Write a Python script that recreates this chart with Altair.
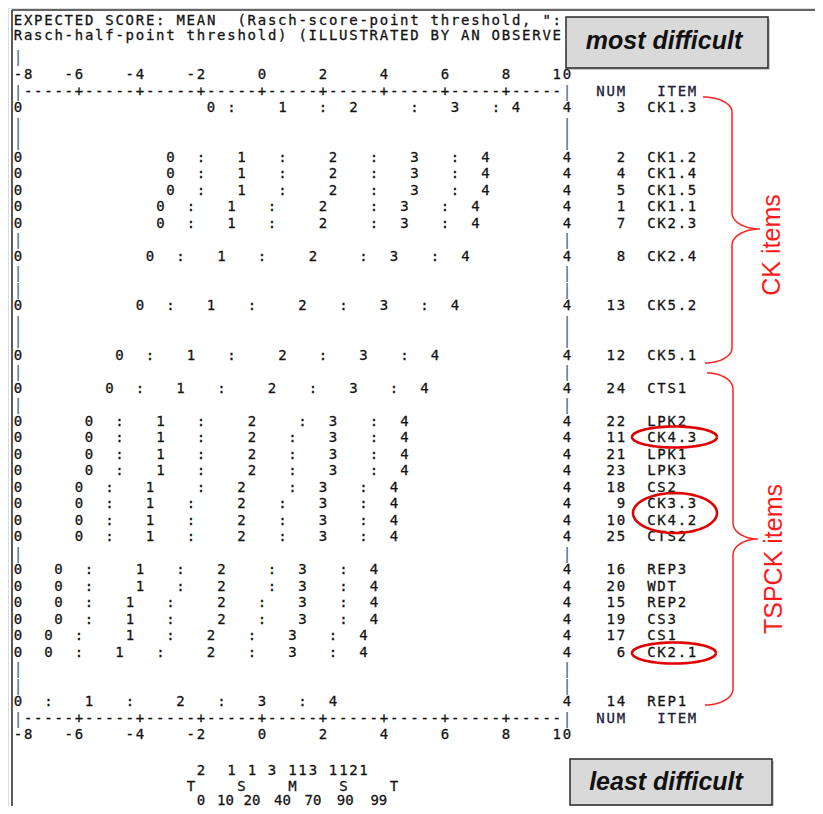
import altair as alt
import pandas as pd
import numpy as np

# ---------------- data ----------------
ITEM_NAMES = ["CK1.3", "CK1.2", "CK1.4", "CK1.5", "CK1.1", "CK2.3", "CK2.4", "CK5.2", "CK5.1",
              "CTS1", "LPK2", "CK4.3", "LPK1", "LPK3", "CS2", "CK3.3", "CK4.2", "CTS2",
              "REP3", "WDT", "REP2", "CS3", "CS1", "CK2.1", "REP1"]
ITEM_NUMS = [3, 2, 4, 5, 1, 7, 8, 13, 12, 24, 22, 11, 21, 23, 18, 9, 10, 25, 16, 20, 15, 19, 17, 6, 14]
ITEM_LINES = [0, 3, 4, 5, 6, 7, 9, 12, 15, 17, 19, 20, 21, 22, 23, 24, 25, 26, 28, 29, 30, 31, 32, 33, 36]

# logit positions of expected scores 0..4 and of the half-point thresholds ":"
CAT0 = [-1.67, -3.0, -3.0, -3.0, -3.33, -3.33, -3.67, -4.0, -4.67, -5.0, -5.67, -5.67, -5.67, -5.67,
        -6.0, -6.0, -6.0, -6.0, -6.67, -6.67, -6.67, -6.67, -7.0, -7.0, -8.0]
TH01 = [-1.0, -2.0, -2.0, -2.0, -2.33, -2.33, -2.67, -3.0, -3.67, -4.0, -4.67, -4.67, -4.67, -4.67,
        -5.0, -5.0, -5.0, -5.0, -5.67, -5.67, -5.67, -5.67, -6.0, -6.0, -7.0]
CAT1 = [0.67, -0.67, -0.67, -0.67, -1.0, -1.0, -1.33, -1.67, -2.33, -2.67, -3.33, -3.33, -3.33, -3.33,
        -3.67, -3.67, -3.67, -3.67, -4.0, -4.0, -4.33, -4.33, -4.33, -4.67, -5.67]
TH12 = [2.0, 0.67, 0.67, 0.67, 0.33, 0.33, 0.0, -0.33, -1.0, -1.33, -2.0, -2.0, -2.0, -2.0,
        -2.0, -2.33, -2.33, -2.33, -2.67, -2.67, -3.0, -3.0, -3.0, -3.33, -4.33]
CAT2 = [3.0, 2.33, 2.33, 2.33, 2.0, 2.0, 1.67, 1.33, 0.67, 0.33, -0.33, -0.33, -0.33, -0.33,
        -0.67, -0.67, -0.67, -0.67, -1.33, -1.33, -1.33, -1.33, -1.67, -1.67, -2.67]
TH23 = [5.0, 3.67, 3.67, 3.67, 3.67, 3.67, 3.33, 2.67, 2.0, 1.67, 1.33, 1.0, 1.0, 1.0,
        1.0, 0.67, 0.67, 0.67, 0.33, 0.33, 0.0, 0.0, -0.33, -0.33, -1.33]
CAT3 = [6.33, 5.0, 5.0, 5.0, 4.67, 4.67, 4.33, 4.0, 3.33, 3.0, 2.33, 2.33, 2.33, 2.33,
        2.0, 2.0, 2.0, 2.0, 1.33, 1.33, 1.33, 1.33, 1.0, 1.0, 0.0]
TH34 = [7.67, 6.33, 6.33, 6.33, 6.0, 6.0, 5.67, 5.33, 4.67, 4.33, 3.67, 3.67, 3.67, 3.67,
        3.33, 3.33, 3.33, 3.33, 2.67, 2.67, 2.67, 2.67, 2.33, 2.33, 1.33]
CAT4 = [8.33, 7.33, 7.33, 7.33, 7.0, 7.0, 6.67, 6.33, 5.67, 5.33, 4.67, 4.67, 4.67, 4.67,
        4.33, 4.33, 4.33, 4.33, 3.67, 3.67, 3.67, 3.67, 3.33, 3.33, 2.33]

AXIS_TICKS = [-8, -6, -4, -2, 0, 2, 4, 6, 8, 10]

PERSON_COUNTS = ["2", "1", "1", "3", "1", "1", "3", "1", "1", "2", "1"]
PERSON_LOGITS = [-2.0, -1.0, -0.33, 0.33, 1.0, 1.33, 1.67, 2.33, 2.67, 3.0, 3.33]
MARKERS = ["T", "S", "M", "S", "T"]
MARKER_LOGITS = [-2.33, -0.67, 1.0, 2.67, 4.33]
PERCENTILES = ["0", "10", "20", "40", "70", "90", "99"]
PERCENTILE_LOGITS = [-2.0, -1.2, -0.33, 0.67, 1.67, 2.73, 3.83]

HEADER_1 = 'EXPECTED SCORE: MEAN  (Rasch-score-point threshold, ":'
HEADER_2 = 'Rasch-half-point threshold) (ILLUSTRATED BY AN OBSERVE'

# ---------------- geometry helpers ----------------
W, H = 807, 798


def lx(px):  # page pixel -> logit
    return (px - 262.0) / 30.5


def ly(py):  # page pixel -> text line
    return (py - 108.0) / 16.5


X_DOMAIN = [lx(8), lx(8 + W)]
Y_DOMAIN = [ly(8), ly(8 + H)]
xs = alt.Scale(domain=X_DOMAIN, nice=False, zero=False)
ys = alt.Scale(domain=Y_DOMAIN, nice=False, zero=False, reverse=True)

TXT = "#141414"
BAR = "#4f6a8c"


def col2logit(c):
    return -8 + c / 3.0


rows = []
bars = []


def put(ch, x, y, c=TXT):
    if ch == " ":
        return
    if ch == "|":
        bars.append(dict(x=x, y=y, t=ch, c=BAR))
    else:
        rows.append(dict(x=x, y=y, t=ch, c=c))


def put_string(s, col0, line, c=TXT):
    for i, ch in enumerate(s):
        put(ch, col2logit(col0 + i), line, c)


# header
put_string(HEADER_1, 0, ly(21))
put_string(HEADER_2, 0, ly(36))
put("|", -8, ly(57))

# rulers and axis labels
for line_r, line_l in [(-1, -2), (37, 38)]:
    for c in range(55):
        ch = "|" if c in (0, 54) else ("+" if c % 6 == 0 else "-")
        put(ch, col2logit(c), line_r)
    for t in AXIS_TICKS:
        s = str(t)
        end_col = (t + 8) * 3
        start = max(0, end_col - len(s) + 1)
        put_string(s, start, line_l)
    put_string("NUM", 57.3, line_r, "#22223a")
    put_string("ITEM", 63.3, line_r, "#22223a")

# item rows
cats = [CAT0, TH01, CAT1, TH12, CAT2, TH23, CAT3, TH34, CAT4]
syms = ["0", ":", "1", ":", "2", ":", "3", ":", "4"]
for k, line in enumerate(ITEM_LINES):
    if CAT0[k] > -8:
        put("0", -8, line)
    put("4", 10, line)
    for arr, sym in zip(cats, syms):
        put(sym, arr[k], line)
    ns = str(ITEM_NUMS[k])
    put_string(ns, 59.3 - len(ns) + 1, line)
    put_string(ITEM_NAMES[k], 62.3, line)
for line in range(1, 37):
    if line not in ITEM_LINES:
        put("|", -8, line)
        put("|", 10, line)

# person distribution at the bottom
for s, v in zip(PERSON_COUNTS, PERSON_LOGITS):
    put(s, v, ly(771))
for s, v in zip(MARKERS, MARKER_LOGITS):
    put(s, v, ly(787))
pct_rows = [dict(x=v, y=ly(801), t=s, c=TXT) for s, v in zip(PERCENTILES, PERCENTILE_LOGITS)]

chars = pd.DataFrame(rows + pct_rows)
bar_chars = pd.DataFrame(bars)

# ---------------- annotations ----------------
borders = pd.DataFrame([
    dict(x=lx(12), x2=lx(8 + W), y=ly(10), y2=ly(10)),
    dict(x=lx(12), x2=lx(12), y=ly(10), y2=ly(8 + H)),
])

boxes = pd.DataFrame([
    dict(x=lx(566), x2=lx(768), y=ly(17), y2=ly(68)),
    dict(x=lx(570), x2=lx(772), y=ly(759), y2=ly(805)),
])
shadows = pd.DataFrame([
    dict(x=lx(568), x2=lx(770), y=ly(19), y2=ly(70)),
    dict(x=lx(572), x2=lx(774), y=ly(761), y2=ly(807)),
])
box_text = pd.DataFrame([
    dict(x=lx(664), y=ly(41), t="most difficult"),
    dict(x=lx(666), y=ly(782), t="least difficult"),
])
group_text = pd.DataFrame([
    dict(x=lx(772), y=ly(245), t="CK items"),
    dict(x=lx(774), y=ly(559), t="TSPCK items"),
])


def brace(name, x0, y_top, x_sp, y_mid, x_tip, y_bot, x_end, r_end, r_mid):
    pts = []
    for th in np.linspace(-np.pi / 2, 0, 14):
        pts.append((x0 + (x_sp - x0) * np.cos(th), y_top + r_end + r_end * np.sin(th)))
    for th in np.linspace(np.pi, np.pi / 2, 14):
        pts.append((x_tip + (x_tip - x_sp) * np.cos(th), y_mid - r_mid + r_mid * np.sin(th)))
    for th in np.linspace(-np.pi / 2, -np.pi, 14):
        pts.append((x_tip + (x_tip - x_sp) * np.cos(th), y_mid + r_mid + r_mid * np.sin(th)))
    for th in np.linspace(0, np.pi / 2, 14):
        pts.append((x_end + (x_sp - x_end) * np.cos(th), y_bot - r_end + r_end * np.sin(th)))
    return [dict(id=name, o=i, x=lx(px), y=ly(py)) for i, (px, py) in enumerate(pts)]


def ellipse(name, cx, cy, rx, ry):
    return [dict(id=name, o=i, x=lx(cx + rx * np.cos(th)), y=ly(cy + ry * np.sin(th)))
            for i, th in enumerate(np.linspace(0, 2 * np.pi, 73))]


braces = pd.DataFrame(brace("ck", 703, 97, 732, 229, 760, 363, 705, 15, 16)
                      + brace("tspck", 707, 373, 733, 539, 758, 705, 705, 16, 16))
ellipses = pd.DataFrame(ellipse("e1", 674.5, 437, 42.5, 10.5)
                        + ellipse("e2", 675, 513, 42, 20)
                        + ellipse("e3", 674, 653, 42, 10.5))

# ---------------- layers ----------------
X = alt.X("x:Q", scale=xs, axis=None)
Y = alt.Y("y:Q", scale=ys, axis=None)

border_layer = alt.Chart(borders).mark_rule(color="#333333", strokeWidth=1.6).encode(
    x=X, x2="x2:Q", y=Y, y2="y2:Q")

text_layer = alt.Chart(chars).mark_text(
    font="DejaVu Sans Mono", fontSize=14, baseline="middle", align="center",
    strokeWidth=0.3
).encode(x=X, y=Y, text="t:N", color=alt.Color("c:N", scale=None),
         stroke=alt.Stroke("c:N", scale=None))

bar_layer = alt.Chart(bar_chars).mark_text(
    font="DejaVu Sans Mono", fontSize=16, baseline="middle", align="center"
).encode(x=X, y=Y, text="t:N", color=alt.Color("c:N", scale=None))

brace_layer = alt.Chart(braces).mark_line(color="#ff2020", strokeWidth=1.5).encode(
    x=X, y=Y, detail="id:N", order="o:Q")

ellipse_layer = alt.Chart(ellipses).mark_line(color="#e00000", strokeWidth=2.6).encode(
    x=X, y=Y, detail="id:N", order="o:Q")

shadow_layer = alt.Chart(shadows).mark_rect(fill="#9a9a9a", opacity=0.5).encode(
    x=X, x2="x2:Q", y=Y, y2="y2:Q")

box_layer = alt.Chart(boxes).mark_rect(fill="#d9d9d9", stroke="#2a2a2a", strokeWidth=1.5).encode(
    x=X, x2="x2:Q", y=Y, y2="y2:Q")

box_text_layer = alt.Chart(box_text).mark_text(
    font="Liberation Sans", fontSize=25, fontWeight="bold", fontStyle="italic",
    color="#111111", baseline="middle", align="center"
).encode(x=X, y=Y, text="t:N")

group_text_layer = alt.Chart(group_text).mark_text(
    font="Liberation Sans", fontSize=25, color="#ff1a1a", angle=270,
    baseline="middle", align="center"
).encode(x=X, y=Y, text="t:N")

chart = alt.layer(
    border_layer, text_layer, bar_layer, brace_layer, ellipse_layer,
    shadow_layer, box_layer, box_text_layer, group_text_layer
).properties(
    width=W, height=H, padding=0, autosize=alt.AutoSizeParams(type="none")
).configure_view(stroke=None).configure(background="white")

chart.save("out.html", embed_options={"renderer": "svg", "actions": False})
